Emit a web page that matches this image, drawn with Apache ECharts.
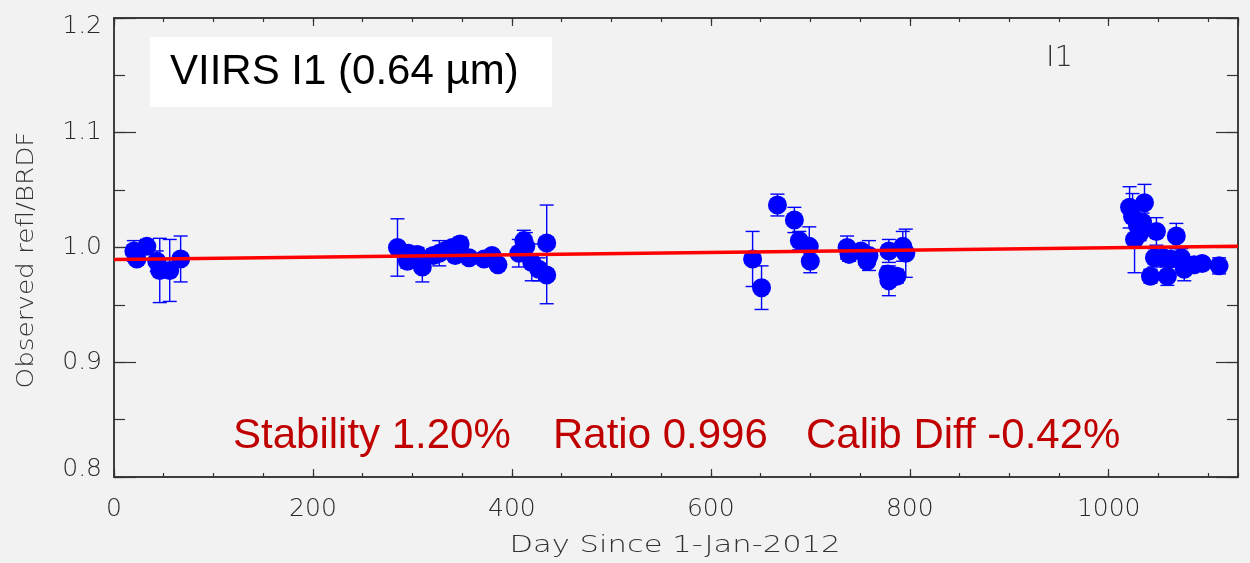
<!DOCTYPE html>
<html>
<head>
<meta charset="utf-8">
<script src="https://cdn.jsdelivr.net/npm/echarts@6/dist/echarts.min.js"></script>
<style>
  html, body { margin: 0; padding: 0; background: #f2f2f2; }
  #chart { width: 1250px; height: 563px; }
</style>
</head>
<body>
<div id="chart"></div>
<script>
// day since 1-Jan-2012
var days = [20, 23, 33, 43, 46, 56, 67,
  285, 295, 296, 305, 310, 321, 327, 335, 340, 343, 348, 357, 372, 380, 386, 407, 412, 414, 420, 427, 435, 435,
  642, 651, 667, 684, 689, 699, 700,
  737, 739, 751, 757, 759, 778, 779, 779, 787, 793, 796,
  1021, 1024, 1026, 1029, 1031, 1034, 1036, 1042, 1046, 1048, 1055, 1059, 1062, 1068, 1073, 1076, 1086, 1094, 1111];
// observed refl / BRDF
var ratio = [0.997, 0.990, 1.001, 0.988, 0.980, 0.980, 0.990,
  1.000, 0.988, 0.995, 0.994, 0.983, 0.993, 0.995, 0.998, 1.000, 0.993, 1.003, 0.991, 0.990, 0.993, 0.985, 0.995, 1.006, 1.001, 0.987, 0.981, 0.976, 1.004,
  0.990, 0.965, 1.037, 1.024, 1.006, 1.001, 0.988,
  1.000, 0.994, 0.997, 0.988, 0.993, 0.977, 0.997, 0.971, 0.975, 1.001, 0.995,
  1.035, 1.027, 1.007, 1.019, 1.012, 1.022, 1.039, 0.975, 0.991, 1.014, 0.991, 0.975, 0.990, 1.010, 0.991, 0.981, 0.985, 0.986, 0.984];
// error bar half length
var ratioErr = [0.009, 0.005, 0.006, 0.009, 0.028, 0.027, 0.020,
  0.025, 0.006, 0.006, 0.006, 0.013, 0.006, 0.011, 0.006, 0.006, 0.005, 0.006, 0.005, 0.004, 0.004, 0.004, 0.012, 0.009, 0.012, 0.016, 0.010, 0.025, 0.033,
  0.024, 0.019, 0.0095, 0.011, 0.008, 0.017, 0.010,
  0.010, 0.006, 0.005, 0.005, 0.013, 0.006, 0.010, 0.013, 0.006, 0.013, 0.021,
  0.018, 0.020, 0.029, 0.008, 0.006, 0.008, 0.016, 0.006, 0.008, 0.012, 0.006, 0.008, 0.006, 0.011, 0.008, 0.010, 0.005, 0.005, 0.007];
// linear fit
var trendDays = [0, 1130];
var trendVals = [0.9895, 1.001];

var yTicks = [0.8, 0.9, 1.0, 1.1, 1.2];
var statsTexts = ['Stability 1.20%', 'Ratio 0.996', 'Calib Diff -0.42%'];

var pts = days.map(function (d, i) { return [d, ratio[i], ratioErr[i]]; });
var trend = trendDays.map(function (d, i) { return [d, trendVals[i]]; });

var frame = { show: true, onZero: false, lineStyle: { color: '#333', width: 1.5 } };
var lblFont = { fontFamily: 'DejaVu Sans', fontWeight: 200, fontSize: 25, color: '#2a2a2a' };

function xAxisOf(pos, major) {
  return {
    type: 'value', position: pos, min: 0, max: 1130,
    interval: major ? 200 : 50,
    axisLine: frame,
    axisTick: { show: true, inside: true, length: major ? 8 : 4, lineStyle: { color: '#333', width: 1.2 } },
    axisLabel: (major && pos === 'bottom') ? Object.assign({
      show: true, margin: 20, showMaxLabel: false,
      formatter: function (v) { return String(v); }
    }, lblFont) : { show: false },
    splitLine: { show: false }
  };
}
function yAxisOf(pos, major) {
  return {
    type: 'value', position: pos, min: 0.8, max: 1.2, interval: major ? 0.1 : 0.05,
    axisLine: frame,
    axisTick: { show: true, inside: true, length: major ? 22 : 11, lineStyle: { color: '#333', width: 1.2 } },
    axisLabel: (major && pos === 'left') ? Object.assign({
      show: true, margin: 12,
      formatter: function (v) {
        var s = v.toFixed(1);
        if (Math.abs(v - yTicks[yTicks.length - 1]) < 1e-6) return '{hi|' + s + '}';
        if (Math.abs(v - yTicks[0]) < 1e-6) return '{lo|' + s + '}';
        return s;
      },
      rich: {
        hi: Object.assign({ padding: [16, 0, 0, 0] }, lblFont),
        lo: Object.assign({ padding: [0, 0, 16, 0] }, lblFont)
      }
    }, lblFont) : { show: false },
    splitLine: { show: false }
  };
}

var chart = echarts.init(document.getElementById('chart'));
chart.setOption({
  backgroundColor: '#f2f2f2',
  animation: false,
  grid: { left: 114, top: 18, width: 1124, height: 459 },
  xAxis: [xAxisOf('bottom', true), xAxisOf('top', true), xAxisOf('bottom', false), xAxisOf('top', false)],
  yAxis: [yAxisOf('left', true), yAxisOf('right', true), yAxisOf('left', false), yAxisOf('right', false)],
  graphic: [
    { type: 'rect', left: 150, top: 37, shape: { width: 402, height: 70 }, style: { fill: '#fff' }, z: 10 },
    { type: 'text', left: 170, top: 51, z: 11,
      style: { text: 'VIIRS I1 (0.64 µm)', font: '42px "Liberation Sans", Arial, sans-serif', fill: '#000' } },
    { type: 'text', left: 1046, top: 44, z: 11,
      style: { text: 'I1', font: '200 29px "DejaVu Sans"', fill: '#333' } },
    { type: 'text', left: 233, top: 415, z: 11,
      style: { text: statsTexts[0], font: '42px "Liberation Sans", Arial, sans-serif', fill: '#c00000' } },
    { type: 'text', left: 553, top: 415, z: 11,
      style: { text: statsTexts[1], font: '42px "Liberation Sans", Arial, sans-serif', fill: '#c00000' } },
    { type: 'text', left: 806, top: 415, z: 11,
      style: { text: statsTexts[2], font: '42px "Liberation Sans", Arial, sans-serif', fill: '#c00000' } },
    // axis titles, stretched like the original vector font
    { type: 'text', x: 675, y: 546, scaleX: 1.33, z: 11,
      style: { text: 'Day Since 1-Jan-2012', font: '200 23px "DejaVu Sans"', fill: '#333', align: 'center', verticalAlign: 'middle' } },
    { type: 'text', x: 27, y: 260, rotation: Math.PI / 2, scaleX: 1.14, z: 11,
      style: { text: 'Observed refl/BRDF', font: '200 23px "DejaVu Sans"', fill: '#333', align: 'center', verticalAlign: 'middle' } }
  ],
  series: [
    {
      type: 'custom',
      xAxisIndex: 0, yAxisIndex: 0,
      data: pts,
      z: 2,
      renderItem: function (params, api) {
        var x = api.value(0), y = api.value(1), e = api.value(2);
        var top = api.coord([x, y + e]);
        var bot = api.coord([x, y - e]);
        var hw = 7;
        var st = { stroke: '#0000ff', lineWidth: 1.4 };
        return {
          type: 'group',
          children: [
            { type: 'line', shape: { x1: top[0], y1: top[1], x2: bot[0], y2: bot[1] }, style: st },
            { type: 'line', shape: { x1: top[0] - hw, y1: top[1], x2: top[0] + hw, y2: top[1] }, style: st },
            { type: 'line', shape: { x1: bot[0] - hw, y1: bot[1], x2: bot[0] + hw, y2: bot[1] }, style: st }
          ]
        };
      }
    },
    {
      type: 'scatter',
      xAxisIndex: 0, yAxisIndex: 0,
      data: pts,
      symbol: 'circle',
      symbolSize: 19,
      itemStyle: { color: '#0000ff', opacity: 1 },
      z: 3
    },
    {
      type: 'line',
      xAxisIndex: 0, yAxisIndex: 0,
      data: trend,
      showSymbol: false,
      lineStyle: { color: '#ff0000', width: 3.5 },
      z: 4
    }
  ]
});
</script>
</body>
</html>
